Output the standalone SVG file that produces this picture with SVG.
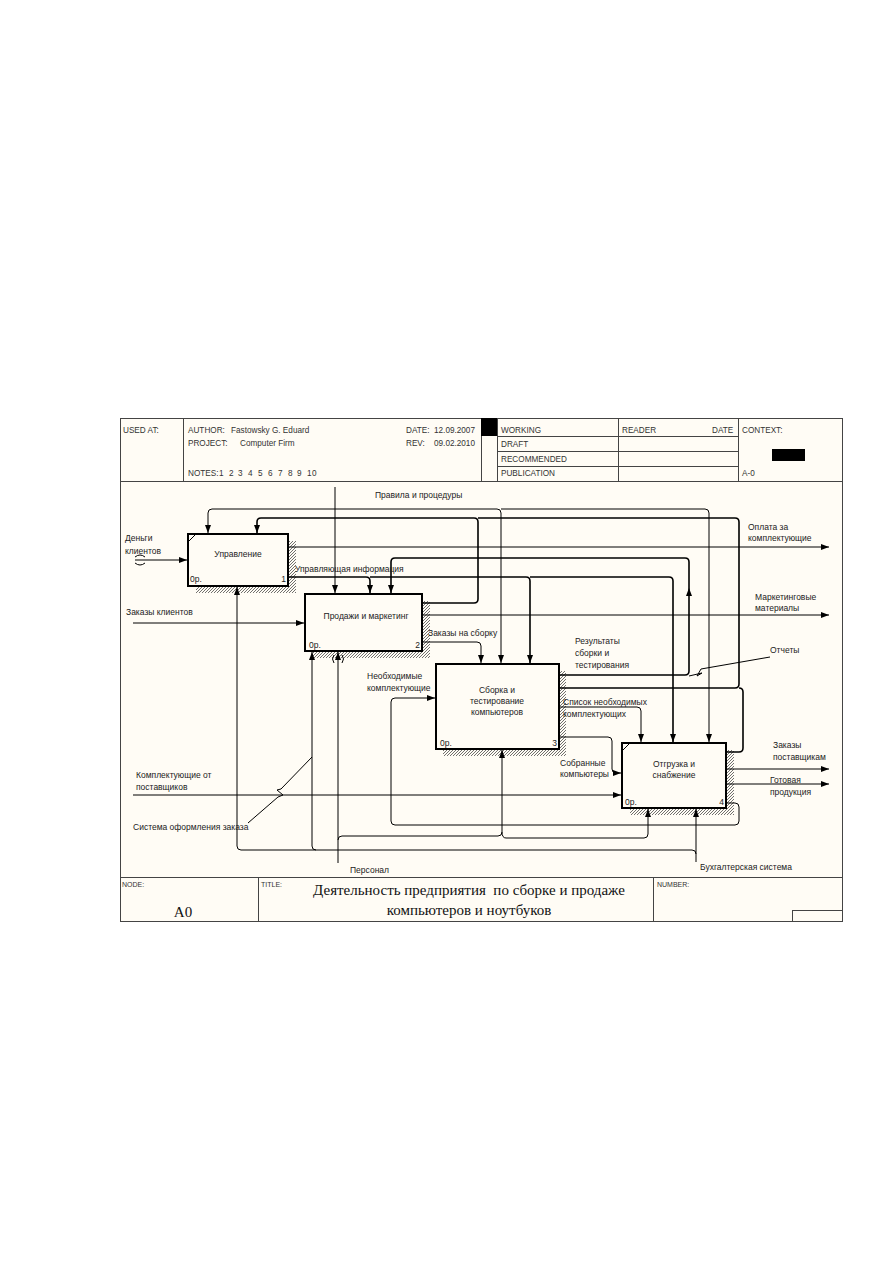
<svg xmlns="http://www.w3.org/2000/svg" width="893" height="1263" viewBox="0 0 893 1263">
<defs>
<pattern id="hatch" width="3" height="3" patternUnits="userSpaceOnUse">
<rect width="3" height="3" fill="#fffcf5"/>
<path d="M-1,1 L1,-1 M0,3 L3,0 M2,4 L4,2" stroke="#333" stroke-width="0.7"/>
</pattern>
<marker id="ah" viewBox="0 0 8 6" refX="8" refY="3" markerWidth="8" markerHeight="6" markerUnits="userSpaceOnUse" orient="auto">
<path d="M0,0 L8,3 L0,6 z" fill="#000"/>
</marker>
<style>
.t{font-family:"Liberation Sans",Arial,sans-serif;font-size:8.5px;fill:#222}
.h{font-family:"Liberation Sans",Arial,sans-serif;font-size:8.2px;fill:#333;white-space:pre}
.s{font-family:"Liberation Sans",Arial,sans-serif;font-size:7px;fill:#333}
.ti{font-family:"Liberation Serif","Times New Roman",serif;font-size:15px;fill:#111;white-space:pre}
.c{stroke:#000;fill:none;stroke-width:1}
.k{stroke:#000;fill:none;stroke-width:1.6}
.a{marker-end:url(#ah)}
.box{fill:#fffcf5;stroke:#000;stroke-width:2}
.sh{fill:url(#hatch)}
.fr{stroke:#444;stroke-width:1;fill:none}
</style>
</defs>
<rect width="893" height="1263" fill="#fff"/>
<g id="frame">
<rect x="120.5" y="418.5" width="722" height="503" fill="#fffcf5" stroke="#444"/>
<path class="fr" d="M120,481.5H843 M183.5,418V481 M481.5,418V481 M497.5,418V481 M618.5,418V481 M738.5,418V481 M497,436.5H738 M497,451.5H738 M497,466.5H738"/>
<rect x="481" y="418" width="16" height="18" fill="#000"/>
<rect x="772" y="449" width="33" height="12" fill="#000"/>
<text class="h" x="123" y="433">USED AT:</text>
<text class="h" x="188" y="433">AUTHOR:</text>
<text class="h" x="231" y="433">Fastowsky G. Eduard</text>
<text class="h" x="188" y="446">PROJECT:</text>
<text class="h" x="240" y="446">Computer Firm</text>
<text class="h" x="188" y="476">NOTES:</text>
<text class="h" x="219 229 238 248 258 268 278 288 297 307 312" y="476">12345678910</text>
<text class="h" x="406" y="433">DATE:</text>
<text class="h" x="434" y="433">12.09.2007</text>
<text class="h" x="406" y="446">REV:</text>
<text class="h" x="434" y="446">09.02.2010</text>
<text class="h" x="501" y="433">WORKING</text>
<text class="h" x="501" y="447">DRAFT</text>
<text class="h" x="501" y="462">RECOMMENDED</text>
<text class="h" x="501" y="476">PUBLICATION</text>
<text class="h" x="622" y="433">READER</text>
<text class="h" x="712" y="433">DATE</text>
<text class="h" x="742" y="433">CONTEXT:</text>
<text class="h" x="742" y="476">A-0</text>
<path class="fr" d="M120,877.5H843 M258.5,877V922 M653.5,877V922 M792.5,910V922 M792,910.5H843"/>
<text class="s" x="122" y="887">NODE:</text>
<text class="s" x="261" y="887">TITLE:</text>
<text class="s" x="657" y="887">NUMBER:</text>
<text class="ti" x="183" y="917" text-anchor="middle">A0</text>
<text class="ti" x="469" y="895" text-anchor="middle">Деятельность предприятия  по сборке и продаже</text>
<text class="ti" x="469" y="915" text-anchor="middle">компьютеров и ноутбуков</text>
</g>
<g id="box1">
<rect class="sh" x="196" y="541" width="100" height="52"/>
<rect class="box" x="188" y="534" width="100" height="52"/>
<path class="c" d="M189,541 L195,535"/>
<text class="t" x="238" y="557" text-anchor="middle">Управление</text>
<text class="t" x="190" y="582">0р.</text>
<text class="t" x="286" y="582" text-anchor="end">1</text>
</g>
<g id="box2">
<rect class="sh" x="313" y="601" width="117" height="57"/>
<rect class="box" x="305" y="594" width="117" height="57"/>
<text class="t" x="366" y="619" text-anchor="middle">Продажи и маркетинг</text>
<text class="t" x="309" y="648">0р.</text>
<text class="t" x="420" y="648" text-anchor="end">2</text>
</g>
<g id="box3">
<rect class="sh" x="443" y="671" width="123" height="85"/>
<rect class="box" x="436" y="664" width="123" height="85"/>
<text class="t" x="497" y="693" text-anchor="middle">Сборка и</text>
<text class="t" x="497" y="704" text-anchor="middle">тестирование</text>
<text class="t" x="497" y="715" text-anchor="middle">компьютеров</text>
<text class="t" x="440" y="746">0р.</text>
<text class="t" x="557" y="746" text-anchor="end">3</text>
</g>
<g id="box4">
<rect class="sh" x="630" y="750" width="104" height="65"/>
<rect class="box" x="622" y="743" width="104" height="65"/>
<path class="c" d="M623,750 L629,744"/>
<text class="t" x="674" y="767" text-anchor="middle">Отгрузка и</text>
<text class="t" x="674" y="778" text-anchor="middle">снабжение</text>
<text class="t" x="625" y="805">0р.</text>
<text class="t" x="724" y="805" text-anchor="end">4</text>
</g>
<g id="connectors">
<path class="c a" d="M335,487 V593"/>
<path class="c a" d="M335,509 H212 Q208,509 208,513 V533"/>
<path class="c a" d="M335,509 H497 Q501,509 501,513 V663"/>
<path class="c a" d="M501,509 H705 Q709,509 709,513 V742"/>
<path class="k a" d="M422,603 H474 Q478,603 478,599 V522 Q478,518 474,518 H261 Q257,518 257,522 V533"/>
<path class="k" d="M559,688 H735 Q739,688 739,684 V522 Q739,518 735,518 H478"/>
<path class="k" d="M726,752 H739 Q743,752 743,748 V692 Q743,688 739,688"/>
<path class="k a" d="M288,577 H366 Q370,577 370,581 V593"/>
<path class="k a" d="M370,577 H526 Q530,577 530,581 V663"/>
<path class="k a" d="M530,577 H669 Q673,577 673,581 V742"/>
<path class="k a" d="M559,675 H685 Q689,675 689,671 V562 Q689,558 685,558 H395 Q391,558 391,562 V593"/>
<path d="M689,588 L686,596 L692,596 z" fill="#000"/>
<path class="c a" d="M288,547 H829"/>
<path class="c a" d="M422,615 H829"/>
<path class="c a" d="M726,769 H829"/>
<path class="c a" d="M726,784 H829"/>
<path class="c a" d="M422,642 H477 Q481,642 481,646 V663"/>
<path class="c a" d="M559,707 H637 Q641,707 641,711 V742"/>
<path class="c a" d="M559,737 H608 Q612,737 612,741 V769 Q612,773 616,773 H621"/>
<path class="c a" d="M726,803 H735 Q739,803 739,807 V821 Q739,825 735,825 H395 Q391,825 391,821 V702 Q391,698 395,698 H435"/>
<path class="c a" d="M135,560 H187"/>
<path class="c" d="M135,557 Q140,553 145,557 M135,563 Q140,567 145,563"/>
<path class="c a" d="M133,623 H304"/>
<path class="c a" d="M133,795 H621"/>
<path class="c a" d="M696,862 V809"/>
<path class="c a" d="M696,854 Q696,850 692,850 H241 Q237,850 237,846 V587"/>
<path class="c a" d="M316,850 Q312,850 312,846 V652"/>
<path class="c a" d="M338,863 V652"/>
<path class="c" d="M334,655 Q331,659 334,663 M342,655 Q345,659 342,663"/>
<path class="c a" d="M338,840 Q338,836 342,836 H498 Q502,836 502,832 V750"/>
<path class="c a" d="M502,832 Q502,838 506,838 H644 Q648,838 648,834 V809"/>
<path class="c" d="M770,657 L701,669 L697,676 L702,673 L689,676"/>
<path class="c" d="M248,823 L278,797 L283,795 L277,790 L281,789 L312,757"/>
</g>
<g id="labels">
<text class="t" x="125" y="541">Деньги</text>
<text class="t" x="125" y="554">клиентов</text>
<text class="t" x="126" y="615">Заказы клиентов</text>
<text class="t" x="136" y="778">Комплектующие от</text>
<text class="t" x="136" y="790">поставщиков</text>
<text class="t" x="133" y="830">Система оформления заказа</text>
<text class="t" x="375" y="498">Правила и процедуры</text>
<text class="t" x="295" y="572">Управляющая информация</text>
<text class="t" x="428" y="636">Заказы на сборку</text>
<text class="t" x="367" y="679">Необходимые</text>
<text class="t" x="367" y="691">комплектующие</text>
<text class="t" x="575" y="644">Результаты</text>
<text class="t" x="575" y="656">сборки и</text>
<text class="t" x="575" y="668">тестирования</text>
<text class="t" x="563" y="705">Список необходимых</text>
<text class="t" x="563" y="717">комплектующих</text>
<text class="t" x="560" y="766">Собранные</text>
<text class="t" x="560" y="777">компьютеры</text>
<text class="t" x="770" y="653">Отчеты</text>
<text class="t" x="748" y="530">Оплата за</text>
<text class="t" x="748" y="541">комплектующие</text>
<text class="t" x="755" y="600">Маркетинговые</text>
<text class="t" x="755" y="611">материалы</text>
<text class="t" x="773" y="748">Заказы</text>
<text class="t" x="773" y="760">поставщикам</text>
<text class="t" x="770" y="783">Готовая</text>
<text class="t" x="770" y="795">продукция</text>
<text class="t" x="350" y="873">Персонал</text>
<text class="t" x="700" y="870">Бухгалтерская система</text>
</g>
</svg>
